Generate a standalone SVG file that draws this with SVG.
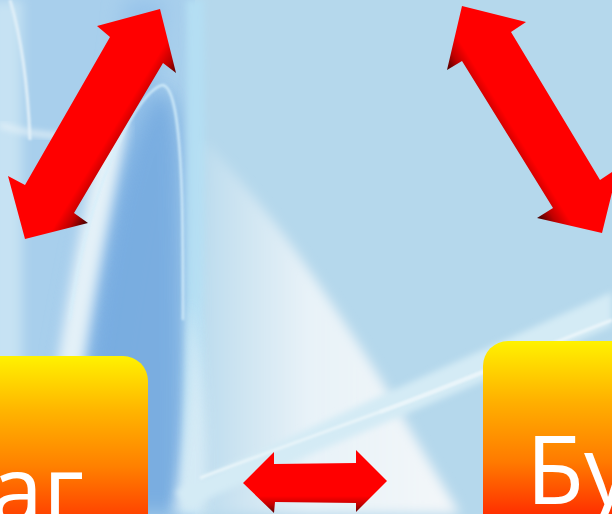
<svg xmlns="http://www.w3.org/2000/svg" width="612" height="514" viewBox="0 0 612 514">
<defs>
<style>
.lbl{font-family:"Open Sans","DejaVu Sans",sans-serif;font-size:95px;fill:#ffffff}
</style>
<filter id="blur10" x="-30%" y="-30%" width="160%" height="160%"><feGaussianBlur stdDeviation="10"/></filter>
<filter id="blur6" x="-30%" y="-30%" width="160%" height="160%"><feGaussianBlur stdDeviation="6"/></filter>
<filter id="blur3" x="-30%" y="-30%" width="160%" height="160%"><feGaussianBlur stdDeviation="3"/></filter>
<filter id="blur1" x="-30%" y="-30%" width="160%" height="160%"><feGaussianBlur stdDeviation="1"/></filter>
<linearGradient id="boxL" gradientUnits="userSpaceOnUse" x1="0" y1="356" x2="0" y2="514">
<stop offset="0" stop-color="#FFF200"/><stop offset="0.35" stop-color="#FFB400"/><stop offset="0.7" stop-color="#FF8000"/><stop offset="1" stop-color="#FF4500"/>
</linearGradient>
<linearGradient id="boxR" gradientUnits="userSpaceOnUse" x1="0" y1="341" x2="0" y2="514">
<stop offset="0" stop-color="#FFF200"/><stop offset="0.35" stop-color="#FFB000"/><stop offset="0.7" stop-color="#FF7A00"/><stop offset="1" stop-color="#FF3000"/>
</linearGradient>
<linearGradient id="arrL" gradientUnits="userSpaceOnUse" x1="53" y1="100" x2="132" y2="148">
<stop offset="0" stop-color="#FF0000"/><stop offset="0.72" stop-color="#FF0000"/><stop offset="0.86" stop-color="#C00000"/><stop offset="1" stop-color="#4A0000"/>
</linearGradient>
<linearGradient id="arrR" gradientUnits="userSpaceOnUse" x1="571" y1="96" x2="493" y2="144">
<stop offset="0" stop-color="#FF0000"/><stop offset="0.72" stop-color="#FF0000"/><stop offset="0.86" stop-color="#C00000"/><stop offset="1" stop-color="#4A0000"/>
</linearGradient>
<linearGradient id="arrB" gradientUnits="userSpaceOnUse" x1="0" y1="450" x2="0" y2="514">
<stop offset="0" stop-color="#FF0000"/><stop offset="0.72" stop-color="#FF0000"/><stop offset="0.86" stop-color="#C00000"/><stop offset="1" stop-color="#500000"/>
</linearGradient>
<linearGradient id="white" x1="0" y1="0" x2="1" y2="0">
<stop offset="0" stop-color="#F2F7FA" stop-opacity="0"/><stop offset="0.45" stop-color="#EEF5F9" stop-opacity="0.9"/><stop offset="1" stop-color="#F4F7F9"/>
</linearGradient>
</defs>
<g id="background">
<rect x="0" y="0" width="612" height="514" fill="#B5D8EC"/>
<rect x="0" y="0" width="195" height="514" fill="#A8CFEC"/>
<rect x="-10" y="0" width="32" height="514" fill="#C6E2F3" filter="url(#blur6)"/>
<path d="M125,0 C110,150 60,300 40,514 L95,514 C110,320 150,150 165,0 Z" fill="#96C3EA" filter="url(#blur10)"/>
<path d="M160,88 C135,110 110,210 88,360 L60,514 L184,514 C184,330 183,200 181,150 C178,110 172,92 160,88 Z" fill="#72A8DF" opacity="0.85" filter="url(#blur10)"/>
<path d="M115,120 C100,200 75,300 50,514" fill="none" stroke="#E4F1F8" stroke-width="26" filter="url(#blur6)"/>
<path d="M186,0 L204,0 C206,150 204,350 200,514 L182,514 C187,350 188,150 186,0 Z" fill="#B4DEF3" filter="url(#blur3)"/>
<path d="M10,0 C22,40 28,90 30,140" fill="none" stroke="#E0EFF8" stroke-width="3" filter="url(#blur1)"/>
<path d="M0,125 C20,132 45,136 70,136" fill="none" stroke="#E4F1F8" stroke-width="5" filter="url(#blur3)"/>
<path d="M205,140 C240,180 270,215 295,250 C330,300 360,345 383,383 C410,430 440,480 460,514 L185,514 C198,400 205,260 205,140 Z" fill="url(#white)" filter="url(#blur6)"/>
<path d="M190,300 C205,380 210,450 205,514 L172,514 C185,440 190,380 190,300 Z" fill="#DCEDF6" opacity="0.8" filter="url(#blur6)"/>
<path d="M70,320 C80,240 100,180 125,130 C140,100 155,86 163,85 C175,88 180,130 182,200 C183,240 183,280 183,320" fill="none" stroke="#D6EFFB" stroke-width="2.5" opacity="0.85" filter="url(#blur1)"/>
<path d="M175,492 C300,430 450,365 612,292 L612,326 C460,392 320,450 190,506 Z" fill="#D4EBF5" filter="url(#blur3)"/>
<path d="M200,478 C320,432 420,400 520,357" fill="none" stroke="#E8F4F9" stroke-width="3" filter="url(#blur1)"/>
<path d="M380,412 C460,382 540,348 612,320" fill="none" stroke="#EAF5FA" stroke-width="3" filter="url(#blur1)"/>
</g>
<g id="box-left">
<path d="M-10,356 H123 A25,25 0 0 1 148,381 V514 H-10 Z" fill="url(#boxL)"/>
<text class="lbl" x="84" y="524" text-anchor="end">аг</text>
</g>
<g id="box-right">
<path d="M508,341 A25,25 0 0 0 483,366 V514 H620 V341 Z" fill="url(#boxR)"/>
<text class="lbl" x="526" y="504">Бу</text>
</g>
<g id="connectors">
<polygon points="160,9 176,73 163,63 74,213 88,223 25,239 8,176 25,185 110,37 97,26" fill="url(#arrL)"/>
<polygon points="462,6 526,22 511,32 600,180 618,168 602,233 537,218 553,208 462,61 447,70" fill="url(#arrR)"/>
<polygon points="243,483 274,452 274,464 356,463 356,450 387,481 356,512 356,503 275,502 274,513" fill="url(#arrB)"/>
</g>
</svg>
